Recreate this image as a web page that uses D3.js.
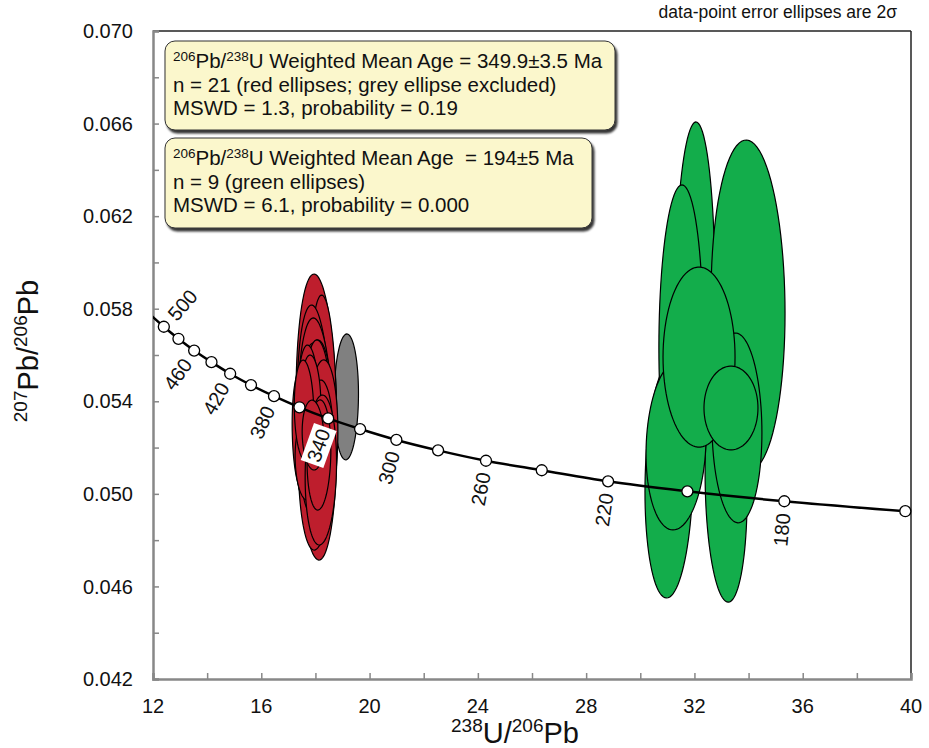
<!DOCTYPE html>
<html>
<head>
<meta charset="utf-8">
<script src="https://cdn.jsdelivr.net/npm/d3@7/dist/d3.min.js"></script>
<style>
body { margin: 0; background: #fff; }
svg { font-family: "Liberation Sans", Arial, Helvetica, sans-serif; }
</style>
</head>
<body>
<div id="chart"></div>
<script>
// axis ticks
const xTicks = [12, 16, 20, 24, 28, 32, 36, 40]
const yTicks = [0.042, 0.046, 0.050, 0.054, 0.058, 0.062, 0.066, 0.070]

// concordia (age Ma, 238U/206Pb, 207Pb/206Pb)
const concAge = [520, 500, 480, 460, 440, 420, 400, 380, 360, 340, 320, 300, 280, 260, 240, 220, 200, 180, 160]
const concX = [11.90, 12.40, 12.94, 13.52, 14.16, 14.85, 15.62, 16.47, 17.41, 18.47, 19.65, 20.99, 22.53, 24.30, 26.36, 28.81, 31.74, 35.32, 39.79]
const concY = [0.05774, 0.05722, 0.05670, 0.05619, 0.05569, 0.05519, 0.05470, 0.05422, 0.05374, 0.05326, 0.05280, 0.05233, 0.05188, 0.05143, 0.05102, 0.05054, 0.05011, 0.04968, 0.04925]
const labelAges = [500, 460, 420, 380, 340, 300, 260, 220, 180]

// red ellipses (centre, 2 sigma half widths, rho)
const redX = [18.04, 18.28, 17.95, 18.00, 17.98, 17.73, 17.61, 18.02, 17.87, 18.10, 17.48, 18.25, 17.76, 17.95, 17.65, 18.24, 17.84, 18.20, 17.58, 18.13, 17.91]
const redY = [0.05332, 0.05362, 0.05319, 0.05298, 0.05276, 0.05254, 0.05233, 0.05211, 0.05319, 0.05406, 0.05276, 0.05233, 0.05341, 0.05168, 0.05146, 0.05298, 0.05406, 0.05103, 0.05362, 0.05168, 0.05254]
const redSx = [0.760, 0.500, 0.630, 0.650, 0.560, 0.480, 0.400, 0.660, 0.400, 0.460, 0.340, 0.580, 0.430, 0.500, 0.400, 0.400, 0.360, 0.580, 0.360, 0.440, 0.400]
const redSy = [0.00618, 0.00497, 0.00497, 0.00462, 0.00376, 0.00346, 0.00281, 0.00454, 0.00216, 0.00259, 0.00259, 0.00346, 0.00302, 0.00259, 0.00173, 0.00194, 0.00194, 0.00324, 0.00216, 0.00238, 0.00151]
const redRho = [-0.12, -0.1, -0.15, -0.12, -0.1, -0.1, -0.15, 0.1, -0.1, -0.1, -0.1, 0.1, -0.12, 0.1, -0.1, -0.1, -0.1, 0.1, -0.1, 0.1, -0.1]

// grey (excluded) ellipse
const greyX = [19.14]
const greyY = [0.05419]
const greySx = [0.450]
const greySy = [0.00272]
const greyRho = [0.05]

// green ellipses
const greenX = [31.06, 33.17, 32.02, 31.50, 33.98, 31.32, 33.57, 32.17, 33.35]
const greenY = [0.05060, 0.05038, 0.05838, 0.05665, 0.05816, 0.05211, 0.05285, 0.05591, 0.05371]
const greenSx = [0.887, 0.776, 0.739, 0.813, 1.367, 1.108, 0.923, 1.330, 0.997]
const greenSy = [0.00510, 0.00506, 0.00769, 0.00670, 0.00713, 0.00367, 0.00410, 0.00389, 0.00181]
const greenRho = [0.1, -0.1, 0.05, 0.05, -0.05, 0.1, -0.05, 0, 0]

const box1 = ['Weighted Mean Age = 349.9\u00b13.5 Ma', 'n = 21 (red ellipses; grey ellipse excluded)', 'MSWD = 1.3, probability = 0.19']
const box2 = ['Weighted Mean Age\u00a0 = 194\u00b15 Ma', 'n = 9 (green ellipses)', 'MSWD = 6.1, probability = 0.000']

let width = 929
let height = 748
let margin = {top: 31, right: 18, bottom: 69, left: 153}
let w = width - margin.left - margin.right
let h = height - margin.top - margin.bottom

let x = d3.scaleLinear().domain([12, 40]).range([0, w])
let y = d3.scaleLinear().domain([0.042, 0.070]).range([h, 0])

let svg = d3.select('#chart').append('svg')
  .attr('width', width)
  .attr('height', height)

let defs = svg.append('defs')
defs.append('clipPath').attr('id', 'clip')
  .append('rect').attr('width', w).attr('height', h)
let f = defs.append('filter').attr('id', 'shadow')
  .attr('x', '-5%').attr('y', '-10%').attr('width', '115%').attr('height', '130%')
f.append('feDropShadow').attr('dx', 2).attr('dy', 3).attr('stdDeviation', 1.2)
  .attr('flood-color', '#000').attr('flood-opacity', 0.8)

let g = svg.append('g').attr('transform', `translate(${margin.left},${margin.top})`)

// frame: top and right dark, left and bottom grey axes
g.append('line').attr('x1', 0).attr('x2', w).attr('y1', 0).attr('y2', 0)
  .attr('stroke', '#222').attr('stroke-width', 1.5)
g.append('line').attr('x1', w).attr('x2', w).attr('y1', 0).attr('y2', h)
  .attr('stroke', '#222').attr('stroke-width', 1.5)

g.append('g').attr('transform', `translate(0,${h})`)
  .call(d3.axisBottom(x).tickValues(d3.range(12, 40.01, 2)).tickSize(-6).tickFormat(''))
g.append('g')
  .call(d3.axisLeft(y).tickValues(d3.range(0.042, 0.0701, 0.002)).tickSize(-6).tickFormat(''))
svg.selectAll('.domain').attr('stroke', '#888').attr('stroke-width', 2.5)
svg.selectAll('.tick line').attr('stroke', '#888').attr('stroke-width', 1.5)

g.selectAll('.xlab').data(xTicks).enter().append('text')
  .attr('x', d => x(d)).attr('y', h + 34)
  .attr('text-anchor', 'middle').attr('font-size', 20).attr('fill', '#111')
  .text(d => d)
g.selectAll('.ylab').data(yTicks).enter().append('text')
  .attr('x', -20).attr('y', d => y(d)).attr('dy', '0.36em')
  .attr('text-anchor', 'end').attr('font-size', 20).attr('fill', '#111')
  .text(d => d3.format('.3f')(d))

// axis titles
let xt = svg.append('text').attr('x', 515).attr('y', 743)
  .attr('text-anchor', 'middle').attr('font-size', 29).attr('fill', '#111')
xt.append('tspan').attr('font-size', 19).attr('dy', -11).text('238')
xt.append('tspan').attr('dy', 11).text('U/')
xt.append('tspan').attr('font-size', 19).attr('dy', -11).text('206')
xt.append('tspan').attr('dy', 11).text('Pb')

let yt = svg.append('text').attr('transform', 'translate(38,351) rotate(-90)')
  .attr('text-anchor', 'middle').attr('font-size', 29).attr('fill', '#111')
yt.append('tspan').attr('font-size', 19).attr('dy', -11).text('207')
yt.append('tspan').attr('dy', 11).text('Pb/')
yt.append('tspan').attr('font-size', 19).attr('dy', -11).text('206')
yt.append('tspan').attr('dy', 11).text('Pb')

svg.append('text').attr('x', 897).attr('y', 18)
  .attr('text-anchor', 'end').attr('font-size', 17.5).attr('fill', '#111')
  .text('data-point error ellipses are 2\u03c3')

// ellipses
let plot = g.append('g').attr('clip-path', 'url(#clip)')
let line = d3.line().curve(d3.curveLinearClosed)
function ellipse (cx, cy, sx, sy, rho) {
  let k = Math.sqrt(1 - rho * rho)
  return line(d3.range(90).map(function (i) {
    let t = i / 90 * 2 * Math.PI
    return [x(cx + sx * Math.cos(t)), y(cy + sy * (rho * Math.cos(t) + k * Math.sin(t)))]
  }))
}
function drawSet (xs, ys, sxs, sys, rhos, fill) {
  plot.append('g').selectAll('path').data(xs).enter().append('path')
    .attr('d', (d, i) => ellipse(xs[i], ys[i], sxs[i], sys[i], rhos[i]))
    .attr('fill', fill).attr('stroke', '#000').attr('stroke-width', 1.2)
}
drawSet(greyX, greyY, greySx, greySy, greyRho, '#808080')
drawSet(redX, redY, redSx, redSy, redRho, '#BE1E2D')
drawSet(greenX, greenY, greenSx, greenSy, greenRho, '#13AD4B')

// concordia curve
let conc = concAge.map((a, i) => ({age: a, x: concX[i], y: concY[i]}))
plot.append('path').datum(conc)
  .attr('d', d3.line().x(d => x(d.x)).y(d => y(d.y)).curve(d3.curveMonotoneX))
  .attr('fill', 'none').attr('stroke', '#000').attr('stroke-width', 2.5)

// age labels, perpendicular to the curve
conc.forEach(function (d, i) {
  if (labelAges.indexOf(d.age) < 0) return
  let a = conc[i - 1]
  let b = conc[i + 1]
  let th = Math.atan2(y(b.y) - y(a.y), x(b.x) - x(a.x))
  let flip = d.age === 500
  let off = 12
  let px = x(d.x) + (flip ? 1 : -1) * off * Math.sin(th)
  let py = y(d.y) + (flip ? -1 : 1) * off * Math.cos(th)
  let lg = g.append('g').attr('transform', `translate(${px},${py}) rotate(${th * 180 / Math.PI - 90})`)
  let t = lg.append('text').attr('text-anchor', flip ? 'start' : 'end').attr('dy', '0.36em')
    .attr('font-size', 20).attr('fill', '#111').text(d.age)
  let bb = t.node().getBBox()
  lg.insert('rect', 'text').attr('x', bb.x - 3).attr('y', bb.y - 1)
    .attr('width', bb.width + 6).attr('height', bb.height + 2).attr('fill', '#fff')
})

g.selectAll('.marker').data(conc.filter(d => d.age <= 500)).enter().append('circle')
  .attr('cx', d => x(d.x)).attr('cy', d => y(d.y)).attr('r', 5.5)
  .attr('fill', '#fff').attr('stroke', '#000').attr('stroke-width', 1.3)

// annotation boxes
function box (bx, by, bw, bh, lines) {
  svg.append('rect').attr('x', bx).attr('y', by).attr('width', bw).attr('height', bh)
    .attr('rx', 10).attr('fill', '#FBF7CC').attr('stroke', '#333').attr('stroke-width', 1)
    .attr('filter', 'url(#shadow)')
  lines.forEach(function (s, i) {
    let t = svg.append('text').attr('x', bx + 8).attr('y', by + 27 + i * 23.5)
      .attr('font-size', 20.5).attr('fill', '#111')
    if (i === 0) {
      t.append('tspan').attr('font-size', 13.5).attr('dy', -7).text('206')
      t.append('tspan').attr('dy', 7).text('Pb/')
      t.append('tspan').attr('font-size', 13.5).attr('dy', -7).text('238')
      t.append('tspan').attr('dy', 7).text('U ' + s)
    } else {
      t.text(s)
    }
  })
}
box(165, 41, 450, 89, box1)
box(165, 138, 427, 90, box2)
</script>
</body>
</html>
